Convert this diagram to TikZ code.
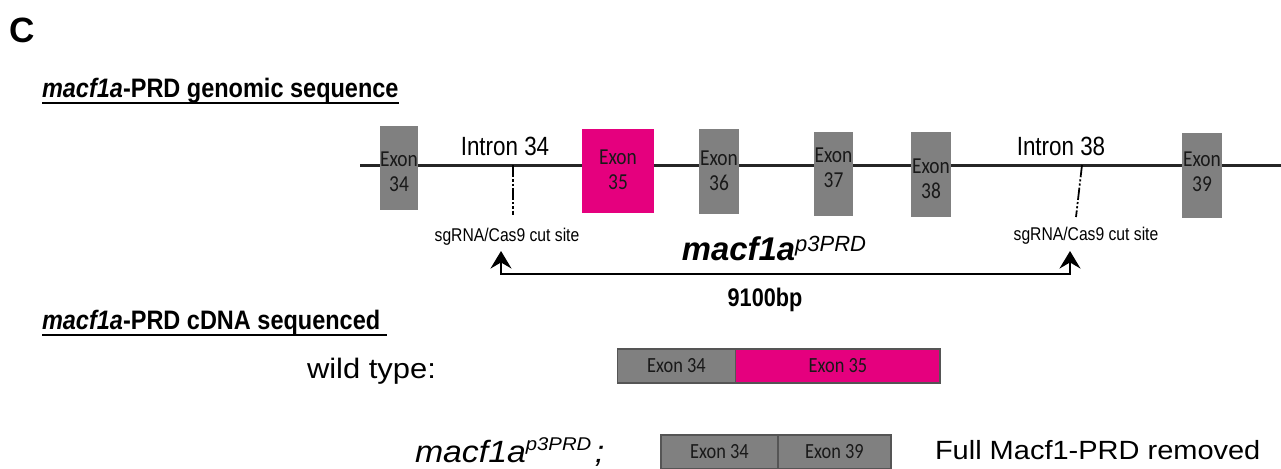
\documentclass[tikz,border=0pt]{standalone}
\usepackage{fontspec}
\setmainfont{Liberation Sans}
\newfontfamily\narrowfont[FakeStretch=0.85]{Liberation Sans}
\newfontfamily\titlefont[FakeStretch=0.88]{Liberation Sans}
\newfontfamily\widefont[FakeStretch=1.1]{Liberation Sans}
\newfontfamily\exonfont[FakeStretch=0.85]{Carlito}
\usepackage{tikz}
\usetikzlibrary{arrows.meta,positioning,calc}
\definecolor{exongray}{HTML}{808080}
\definecolor{exonpink}{HTML}{E5007E}
\definecolor{bargray}{HTML}{555555}

\begin{document}
\begin{tikzpicture}[x=0.02cm, y=-0.02cm,
        txt/.style={inner sep=0pt, outer sep=0pt},
        exon/.style={fill=exongray, inner sep=0pt, outer sep=0pt},
        exlabel/.style={inner sep=0pt, align=center, text=black!90, font=\exonfont\fontsize{13}{14.5}\selectfont},
        cdna/.style={draw=bargray, line width=1.1pt, fill=exongray, inner sep=0pt, outer sep=0pt, minimum height=0.68cm, text=black!90, font=\exonfont\fontsize{12.3}{13}\selectfont},
        genline/.style={line width=1.7pt, black!85},
        cutline/.style={line width=1pt, dash pattern=on 7pt off 1.2pt on 1.2pt off 1.2pt on 1.2pt off 1.2pt},
        uline/.style={line width=1.1pt}
    ]
    \useasboundingbox (0,0) rectangle (1281,468);
    % Titulos
    \node[txt, anchor=base west, font=\fontsize{20}{23}\selectfont\bfseries] (panel) at (10,42) {C};
    \node[txt, anchor=base west, font=\titlefont\fontsize{15.2}{18}\selectfont\bfseries] (tgen) at (42,97) {\itshape macf1a\upshape-PRD genomic sequence};
    \draw[uline] ([yshift=-3.4pt]tgen.base west) -- ([yshift=-3.4pt]tgen.base east);
    \node[txt, anchor=base west, font=\titlefont\fontsize{15.2}{18}\selectfont\bfseries] (tcdna) at (42,329) {\itshape macf1a\upshape-PRD cDNA sequenced};
    \draw[uline] ([yshift=-3.4pt]tcdna.base west) -- ([yshift=-3.4pt,xshift=4pt]tcdna.base east);
    % Sequencia genomica
    \coordinate (gstart) at (360,165);
    \coordinate (gend) at (1281,165);
    \draw[genline] (gstart) -- (gend);
    \node[exon, minimum width=0.76cm, minimum height=1.68cm] (ex34) at (399,168) {};
    \node[exon, fill=exonpink, minimum width=1.44cm, minimum height=1.68cm] (ex35) at (618,171) {};
    \node[exon, minimum width=0.80cm, minimum height=1.70cm] (ex36) at (719,171.5) {};
    \node[exon, minimum width=0.78cm, minimum height=1.68cm] (ex37) at (833.5,174) {};
    \node[exon, minimum width=0.80cm, minimum height=1.70cm] (ex38) at (931,174.5) {};
    \node[exon, minimum width=0.80cm, minimum height=1.70cm] (ex39) at (1202,175.5) {};
    \node[exlabel] (lab34) at (399,172) {Exon\\34};
    \node[exlabel] (lab35) at (618,170) {Exon\\35};
    \node[exlabel] (lab36) at (719,171) {Exon\\36};
    \node[exlabel] (lab37) at (833.5,167.5) {Exon\\37};
    \node[exlabel] (lab38) at (931,178.5) {Exon\\38};
    \node[exlabel] (lab39) at (1202,172) {Exon\\39};
    \node[txt, anchor=base, font=\narrowfont\fontsize{15}{18}\selectfont] (in34) at (505,155) {Intron 34};
    \node[txt, anchor=base, font=\narrowfont\fontsize{15}{18}\selectfont] (in38) at (1061,155) {Intron 38};
    % Cortes
    \coordinate (cut34) at (513,165);
    \coordinate (cut34e) at (513,215);
    \coordinate (cut38) at (1082,165);
    \coordinate (cut38e) at (1076,217);
    \draw[cutline] (cut34) -- (cut34e);
    \draw[cutline] (cut38) -- (cut38e);
    \node[txt, anchor=base, font=\narrowfont\fontsize{10.5}{12}\selectfont] (sg34) at (507,241) {sgRNA/Cas9 cut site};
    \node[txt, anchor=base, font=\narrowfont\fontsize{10.5}{12}\selectfont] (sg38) at (1086,240) {sgRNA/Cas9 cut site};
    % Delecao
    \coordinate (tipL) at (501,251);
    \coordinate (tipR) at (1070,251);
    \coordinate (base) at (501,274);
    \draw[line width=1.1pt, {Stealth[length=10pt, width=12pt, inset=3.5pt]}-{Stealth[length=10pt, width=12pt, inset=3.5pt]}]
        (tipL) -- (tipL |- base) -- (tipR |- base) -- (tipR);
    \node[txt, anchor=base, font=\fontsize{18.7}{22}\selectfont] (allele) at (774,260) {\bfseries\itshape macf1a\raisebox{5pt}{\fontsize{12.5}{14}\selectfont\mdseries\itshape p3PRD}};
    \node[txt, anchor=base, font=\narrowfont\fontsize{14.5}{17}\selectfont\bfseries] (size) at (765,306) {9100bp};
    % cDNA
    \node[txt, anchor=base west, font=\widefont\fontsize{16}{19}\selectfont] (wt) at (307,378) {wild type:};
    \node[cdna, minimum width=2.36cm] (wt34) at (676.5,366) {Exon 34};
    \node[cdna, fill=exonpink, minimum width=4.10cm, right=0pt of wt34] (wt35) {Exon 35};
    \node[txt, anchor=base west, font=\widefont\fontsize{17.5}{20}\selectfont\itshape] (mut) at (415,462) {macf1a\raisebox{6.5pt}{\fontsize{10.5}{12}\selectfont p3PRD}\kern2pt;};
    \node[cdna, minimum width=2.34cm] (mut34) at (719.5,452) {Exon 34};
    \node[cdna, minimum width=2.26cm, right=0pt of mut34] (mut39) {Exon 39};
    \node[txt, anchor=base west, font=\widefont\fontsize{15}{18}\selectfont] (removed) at (935,459) {Full Macf1-PRD removed};
\end{tikzpicture}
\end{document}
